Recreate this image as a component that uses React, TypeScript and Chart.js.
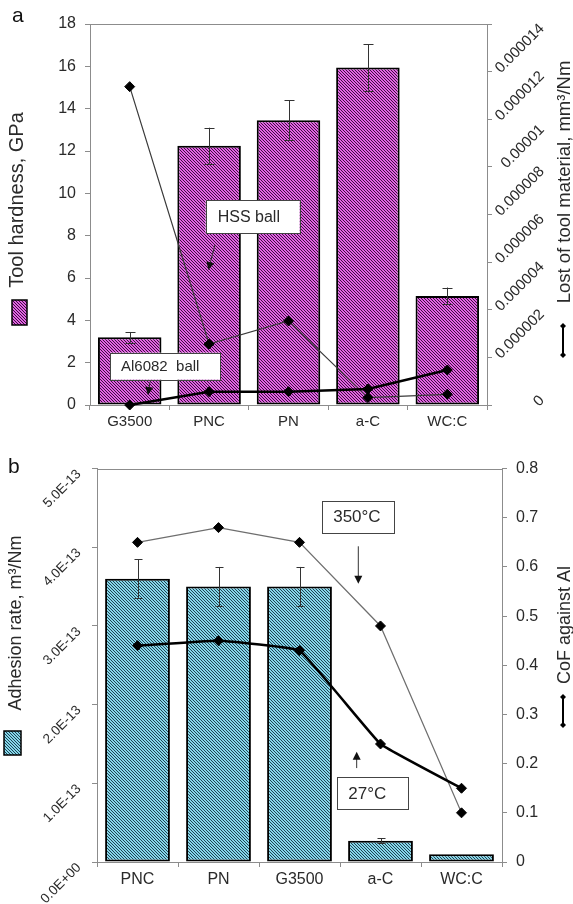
import React, { useEffect, useRef } from 'react';
import { Chart, registerables } from 'chart.js';

Chart.register(...registerables);

// ---------- DATA: panel a ----------
const categoriesA = ['G3500', 'PNC', 'PN', 'a-C', 'WC:C'];
const hardness = [3.2, 12.25, 13.45, 15.95, 5.15];
const hardnessErr = [0.25, 0.85, 0.95, 1.1, 0.4];
const lossHSS = [0.00001337, 0.00000256, 0.00000353, 0.00000031, 0.00000045];
const lossAl = [0, 0.00000056, 0.00000056, 0.00000067, 0.00000147];
const lossTickLabels = ['0', '0.000002', '0.000004', '0.000006', '0.000008', '0.00001', '0.000012', '0.000014', ''];

// ---------- DATA: panel b ----------
const categoriesB = ['PNC', 'PN', 'G3500', 'a-C', 'WC:C'];
const adhesion = [3.6e-13, 3.5e-13, 3.5e-13, 0.27e-13, 0.1e-13];
const adhesionErr = [0.25e-13, 0.25e-13, 0.25e-13, 0.03e-13, 0];
const cof350 = [0.65, 0.68, 0.65, 0.48, 0.1];
const cof27 = [0.44, 0.45, 0.43, 0.24, 0.15];
const adhesionTickLabels = ['0.0E+00', '1.0E-13', '2.0E-13', '3.0E-13', '4.0E-13', '5.0E-13'];
const cofTickLabels = ['0', '0.1', '0.2', '0.3', '0.4', '0.5', '0.6', '0.7', '0.8'];

const FONT = "'Liberation Sans', Arial, sans-serif";
const TXT = '#2a2a2a';
const AXIS = '#8c8c8c';

type Annot = {
  text: string; x: number; y: number; w: number; h: number; size: number; pad: number;
  from: [number, number]; to: [number, number]; yAxis: string;
};

const annotsA: Annot[] = [
  { text: 'HSS ball', x: 0.957, y: 9.68, w: 94, h: 33, size: 16, pad: 12, from: [1.074, 7.56], to: [0.99, 6.38], yAxis: 'y' },
  { text: 'Al6082  ball', x: -0.248, y: 2.47, w: 110, h: 27, size: 15, pad: 11, from: [0.256, 1.09], to: [0.23, 0.47], yAxis: 'y' },
];
const annotsB: Annot[] = [
  { text: '350°C', x: 2.274, y: 0.735, w: 72, h: 32, size: 17, pad: 11.5, from: [2.726, 0.642], to: [2.726, 0.566], yAxis: 'y1' },
  { text: '27°C', x: 2.467, y: 0.173, w: 71, h: 32, size: 17, pad: 11, from: [2.706, 0.191], to: [2.706, 0.224], yAxis: 'y1' },
];

function makePattern(bg: string, fg: string): CanvasPattern | string {
  const c = document.createElement('canvas');
  const s = 3;
  c.width = s; c.height = s;
  const g = c.getContext('2d');
  if (!g) return bg;
  g.fillStyle = bg; g.fillRect(0, 0, s, s);
  g.fillStyle = fg;
  for (let i = 0; i < s; i++) g.fillRect(i, i, 1, 1);
  return g.createPattern(c, 'repeat') || bg;
}

function drawArrow(ctx: CanvasRenderingContext2D, x1: number, y1: number, x2: number, y2: number) {
  const ang = Math.atan2(y2 - y1, x2 - x1);
  const L = 8, W = 4;
  ctx.strokeStyle = '#333'; ctx.fillStyle = '#111'; ctx.lineWidth = 1;
  ctx.beginPath();
  ctx.moveTo(x1, y1);
  ctx.lineTo(x2 - Math.cos(ang) * L * 0.8, y2 - Math.sin(ang) * L * 0.8);
  ctx.stroke();
  ctx.beginPath();
  ctx.moveTo(x2, y2);
  ctx.lineTo(x2 - Math.cos(ang) * L - Math.sin(ang) * W, y2 - Math.sin(ang) * L + Math.cos(ang) * W);
  ctx.lineTo(x2 - Math.cos(ang) * L + Math.sin(ang) * W, y2 - Math.sin(ang) * L - Math.cos(ang) * W);
  ctx.closePath();
  ctx.fill();
}

function drawAnnots(chart: any, list: Annot[]) {
  const ctx: CanvasRenderingContext2D = chart.ctx;
  const xs = chart.scales.x;
  list.forEach((a) => {
    const ys = chart.scales[a.yAxis];
    const bx = xs.getPixelForValue(a.x);
    const by = ys.getPixelForValue(a.y);
    ctx.save();
    ctx.fillStyle = '#fff';
    ctx.fillRect(bx, by, a.w, a.h);
    ctx.strokeStyle = '#444'; ctx.lineWidth = 1;
    ctx.strokeRect(Math.round(bx) + 0.5, Math.round(by) + 0.5, a.w, a.h);
    ctx.fillStyle = TXT;
    ctx.font = `${a.size}px ${FONT}`;
    ctx.textAlign = 'left'; ctx.textBaseline = 'middle';
    ctx.fillText(a.text, bx + a.pad, by + a.h / 2 + 1);
    drawArrow(ctx, xs.getPixelForValue(a.from[0]), ys.getPixelForValue(a.from[1]),
      xs.getPixelForValue(a.to[0]), ys.getPixelForValue(a.to[1]));
    ctx.restore();
  });
}

function rotTitle(ctx: CanvasRenderingContext2D, text: string, cx: number, cy: number, size: number) {
  ctx.save();
  ctx.translate(cx, cy);
  ctx.rotate(-Math.PI / 2);
  ctx.font = `${size}px ${FONT}`;
  ctx.fillStyle = TXT;
  ctx.textAlign = 'center'; ctx.textBaseline = 'middle';
  ctx.fillText(text, 0, 0);
  ctx.restore();
}

function lineKey(ctx: CanvasRenderingContext2D, x: number, y1: number, y2: number) {
  ctx.save();
  ctx.strokeStyle = '#000'; ctx.lineWidth = 2;
  ctx.beginPath(); ctx.moveTo(x, y1); ctx.lineTo(x, y2); ctx.stroke();
  ctx.fillStyle = '#000';
  [y1, y2].forEach((y) => {
    ctx.beginPath();
    ctx.moveTo(x, y - 3); ctx.lineTo(x + 3, y); ctx.lineTo(x, y + 3); ctx.lineTo(x - 3, y);
    ctx.closePath(); ctx.fill();
  });
  ctx.restore();
}

function topBorder(chart: any) {
  const ctx: CanvasRenderingContext2D = chart.ctx;
  const a = chart.chartArea;
  ctx.save();
  ctx.strokeStyle = AXIS; ctx.lineWidth = 1;
  ctx.beginPath();
  ctx.moveTo(a.left, Math.round(a.top) + 0.5);
  ctx.lineTo(a.right, Math.round(a.top) + 0.5);
  ctx.stroke();
  ctx.restore();
}

function errorBars(errs: number[], cap: number) {
  return {
    id: 'errorBars',
    afterDatasetDraw(chart: any, args: any) {
      if (args.index !== 0) return;
      const meta = chart.getDatasetMeta(0);
      const ys = chart.scales[meta.yAxisID];
      const data = chart.data.datasets[0].data as number[];
      const ctx: CanvasRenderingContext2D = chart.ctx;
      ctx.save();
      ctx.strokeStyle = '#333'; ctx.lineWidth = 1;
      meta.data.forEach((el: any, i: number) => {
        const e = errs[i];
        if (!e) return;
        const x = Math.round(el.x) + 0.5;
        const yt = ys.getPixelForValue(data[i] + e);
        const yb = ys.getPixelForValue(data[i] - e);
        ctx.beginPath();
        ctx.moveTo(x, yt); ctx.lineTo(x, yb);
        ctx.moveTo(x - cap, Math.round(yt) + 0.5); ctx.lineTo(x + cap, Math.round(yt) + 0.5);
        ctx.moveTo(x - cap, Math.round(yb) + 0.5); ctx.lineTo(x + cap, Math.round(yb) + 0.5);
        ctx.stroke();
      });
      ctx.restore();
    },
  };
}

const gridCommon = { drawOnChartArea: false, drawTicks: true, tickLength: 5, color: AXIS, lineWidth: 1 };

function configA(purple: CanvasPattern | string): any {
  return {
    data: {
      labels: categoriesA,
      datasets: [
        {
          type: 'bar', data: hardness, yAxisID: 'y', order: 3,
          backgroundColor: purple, borderColor: '#000', borderWidth: 2, borderSkipped: false,
          barPercentage: 0.8, categoryPercentage: 1,
        },
        {
          type: 'line', data: lossHSS, yAxisID: 'y1', order: 2, clip: false,
          borderColor: '#3a3a3a', borderWidth: 1.2, tension: 0, fill: false,
          pointStyle: 'rectRot', pointRadius: 5, pointBackgroundColor: '#000', pointBorderColor: '#000', pointBorderWidth: 1,
        },
        {
          type: 'line', data: lossAl, yAxisID: 'y1', order: 1, clip: false,
          borderColor: '#000', borderWidth: 2.5, tension: 0, fill: false,
          pointStyle: 'rectRot', pointRadius: 5, pointBackgroundColor: '#000', pointBorderColor: '#000', pointBorderWidth: 1,
        },
      ],
    },
    options: {
      responsive: false, animation: false, devicePixelRatio: 1,
      layout: { padding: { top: 24, left: 0, right: 0, bottom: 0 } },
      plugins: { legend: { display: false }, tooltip: { enabled: false } },
      scales: {
        x: {
          type: 'category', offset: true,
          grid: { ...gridCommon, offset: true },
          border: { color: AXIS },
          ticks: { font: { family: FONT, size: 15 }, color: TXT, padding: 3, maxRotation: 0, autoSkip: false },
          afterFit: (s: any) => { s.height = 45; },
        },
        y: {
          position: 'left', min: 0, max: 18,
          ticks: { stepSize: 2, font: { family: FONT, size: 16 }, color: TXT, padding: 9 },
          grid: gridCommon, border: { color: AXIS },
          afterFit: (s: any) => { s.width = 90; },
        },
        y1: {
          position: 'right', min: 0, max: 0.000016,
          ticks: { stepSize: 0.000002, display: false },
          grid: gridCommon, border: { color: AXIS },
          afterFit: (s: any) => { s.width = 86; },
        },
      },
    },
    plugins: [
      errorBars(hardnessErr, 5),
      {
        id: 'extrasA',
        afterDraw(chart: any) {
          const ctx: CanvasRenderingContext2D = chart.ctx;
          topBorder(chart);
          const s = chart.scales.y1;
          ctx.save();
          ctx.font = `15px ${FONT}`;
          ctx.fillStyle = TXT;
          ctx.textAlign = 'right'; ctx.textBaseline = 'middle';
          s.ticks.forEach((t: any, i: number) => {
            const label = lossTickLabels[i];
            if (!label) return;
            const y = s.getPixelForValue(t.value);
            const w = ctx.measureText(label).width;
            const ex = s.left + 55;
            const ey = y - 1 - w * Math.SQRT1_2;
            ctx.save();
            ctx.translate(ex, ey);
            ctx.rotate(-Math.PI / 4);
            ctx.fillText(label, 0, 0);
            ctx.restore();
          });
          ctx.restore();
          ctx.save();
          ctx.font = `21px ${FONT}`; ctx.fillStyle = '#111';
          ctx.textAlign = 'left'; ctx.textBaseline = 'alphabetic';
          ctx.fillText('a', 12, 22);
          ctx.restore();
          rotTitle(ctx, 'Tool hardness, GPa', 17, 200, 20);
          ctx.save();
          ctx.fillStyle = purple as any;
          ctx.fillRect(12, 300, 15, 25);
          ctx.strokeStyle = '#000'; ctx.lineWidth = 1.5;
          ctx.strokeRect(12, 300, 15, 25);
          ctx.restore();
          rotTitle(ctx, 'Lost of tool material, mm³/Nm', 565, 182, 18.5);
          lineKey(ctx, 563, 326, 355);
          drawAnnots(chart, annotsA);
        },
      },
    ],
  };
}

function configB(blue: CanvasPattern | string): any {
  return {
    data: {
      labels: categoriesB,
      datasets: [
        {
          type: 'bar', data: adhesion, yAxisID: 'y', order: 3,
          backgroundColor: blue, borderColor: '#000', borderWidth: 2, borderSkipped: false,
          barPercentage: 0.8, categoryPercentage: 1,
        },
        {
          type: 'line', data: cof350, yAxisID: 'y1', order: 2, clip: false,
          borderColor: '#6e6e6e', borderWidth: 1.2, tension: 0, fill: false,
          pointStyle: 'rectRot', pointRadius: 5, pointBackgroundColor: '#000', pointBorderColor: '#000', pointBorderWidth: 1,
        },
        {
          type: 'line', data: cof27, yAxisID: 'y1', order: 1, clip: false,
          borderColor: '#000', borderWidth: 2.5, tension: 0.08, fill: false,
          pointStyle: 'rectRot', pointRadius: 5, pointBackgroundColor: '#000', pointBorderColor: '#000', pointBorderWidth: 1,
        },
      ],
    },
    options: {
      responsive: false, animation: false, devicePixelRatio: 1,
      layout: { padding: { top: 18, left: 0, right: 0, bottom: 0 } },
      plugins: { legend: { display: false }, tooltip: { enabled: false } },
      scales: {
        x: {
          type: 'category', offset: true,
          grid: { ...gridCommon, offset: true },
          border: { color: AXIS },
          ticks: { font: { family: FONT, size: 16 }, color: TXT, padding: 3, maxRotation: 0, autoSkip: false },
          afterFit: (s: any) => { s.height = 42; },
        },
        y: {
          position: 'left', min: 0, max: 5e-13,
          ticks: { stepSize: 1e-13, display: false },
          grid: gridCommon, border: { color: AXIS },
          afterFit: (s: any) => { s.width = 97; },
        },
        y1: {
          position: 'right', min: 0, max: 0.8,
          ticks: {
            stepSize: 0.1, font: { family: FONT, size: 16 }, color: TXT, padding: 9,
            callback: (_v: any, i: number) => cofTickLabels[i],
          },
          grid: gridCommon, border: { color: AXIS },
          afterFit: (s: any) => { s.width = 71; },
        },
      },
    },
    plugins: [
      errorBars(adhesionErr, 4),
      {
        id: 'extrasB',
        afterDraw(chart: any) {
          const ctx: CanvasRenderingContext2D = chart.ctx;
          topBorder(chart);
          const s = chart.scales.y;
          ctx.save();
          ctx.font = `13.5px ${FONT}`;
          ctx.fillStyle = TXT;
          ctx.textAlign = 'right'; ctx.textBaseline = 'middle';
          s.ticks.forEach((t: any, i: number) => {
            const label = adhesionTickLabels[i];
            if (!label) return;
            const y = s.getPixelForValue(t.value);
            ctx.save();
            ctx.translate(s.right - 18, y + 3.5);
            ctx.rotate(-Math.PI / 4);
            ctx.fillText(label, 0, 0);
            ctx.restore();
          });
          ctx.restore();
          ctx.save();
          ctx.font = `21px ${FONT}`; ctx.fillStyle = '#111';
          ctx.textAlign = 'left'; ctx.textBaseline = 'alphabetic';
          ctx.fillText('b', 8, 23);
          ctx.restore();
          rotTitle(ctx, 'Adhesion rate, m³/Nm', 16, 173, 18);
          ctx.save();
          ctx.fillStyle = blue as any;
          ctx.fillRect(4, 281, 17, 24);
          ctx.strokeStyle = '#000'; ctx.lineWidth = 1.5;
          ctx.strokeRect(4, 281, 17, 24);
          ctx.restore();
          rotTitle(ctx, 'CoF against Al', 565, 175, 18);
          lineKey(ctx, 563, 247, 275);
          drawAnnots(chart, annotsB);
        },
      },
    ],
  };
}

export default function App() {
  const refA = useRef<HTMLCanvasElement>(null);
  const refB = useRef<HTMLCanvasElement>(null);
  useEffect(() => {
    const purple = makePattern('#e262e2', '#3c1240');
    const blue = makePattern('#86d6ea', '#1d4452');
    const a = new Chart(refA.current as HTMLCanvasElement, configA(purple));
    const b = new Chart(refB.current as HTMLCanvasElement, configB(blue));
    return () => { a.destroy(); b.destroy(); };
  }, []);
  return (
    <div style={{ position: 'absolute', left: 0, top: 0, width: 573, height: 904, background: '#fff' }}>
      <canvas ref={refA} width={573} height={450}
        style={{ position: 'absolute', left: 0, top: 0, width: 573, height: 450 }} />
      <canvas ref={refB} width={573} height={454}
        style={{ position: 'absolute', left: 0, top: 450, width: 573, height: 454 }} />
    </div>
  );
}
